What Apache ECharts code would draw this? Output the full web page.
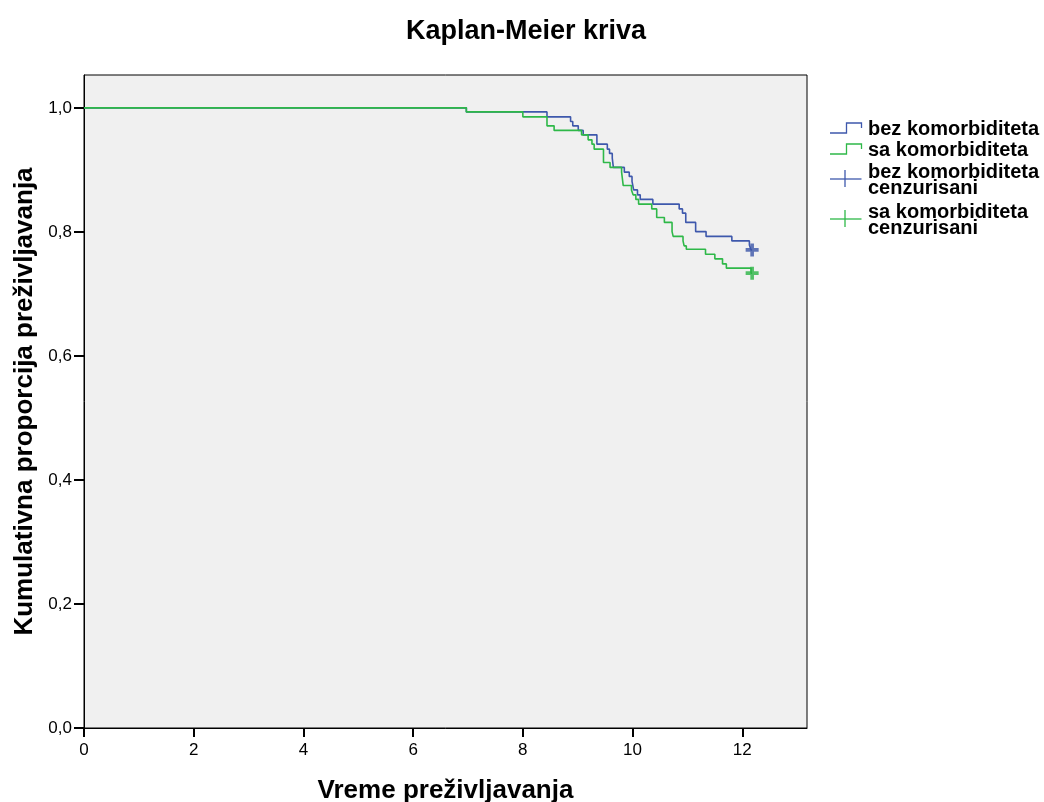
<!DOCTYPE html>
<html>
<head>
<meta charset="utf-8">
<script src="https://cdn.jsdelivr.net/npm/echarts@6/dist/echarts.min.js"></script>
<style>
  html, body { margin: 0; padding: 0; background: #ffffff; }
  #chart { width: 1044px; height: 802px; }
</style>
</head>
<body>
<div id="chart"></div>
<script>
// Kaplan-Meier survival estimates (time, cumulative survival after each event)
const bezTimes = [0, 6.97, 8.44, 8.87, 8.91, 9.01, 9.10, 9.35, 9.54, 9.58, 9.63, 9.65, 9.85, 9.94, 9.99, 10.02, 10.09, 10.14, 10.37, 10.85, 10.91, 10.97, 11.15, 11.34, 11.81, 12.13, 12.16, 12.18];
const bezSurv  = [1.0, 0.9935, 0.9855, 0.9779, 0.9710, 0.9637, 0.9565, 0.9415, 0.9334, 0.9266, 0.9189, 0.9040, 0.8963, 0.8895, 0.8815, 0.8677, 0.8597, 0.8524, 0.8448, 0.8371, 0.8302, 0.8153, 0.8005, 0.7927, 0.7855, 0.7790, 0.7710, 0.7710];

const saTimes = [0, 6.97, 8.00, 8.44, 8.57, 9.07, 9.19, 9.26, 9.30, 9.47, 9.59, 9.80, 9.83, 9.98, 10.01, 10.06, 10.11, 10.35, 10.44, 10.58, 10.72, 10.74, 10.92, 10.94, 10.98, 11.33, 11.50, 11.64, 11.71, 12.16, 12.18];
const saSurv  = [1.0, 0.9935, 0.9855, 0.9710, 0.9637, 0.9565, 0.9484, 0.9415, 0.9334, 0.9118, 0.9040, 0.8963, 0.8747, 0.8677, 0.8597, 0.8524, 0.8448, 0.8371, 0.8231, 0.8153, 0.8005, 0.7927, 0.7855, 0.7774, 0.7721, 0.7640, 0.7565, 0.7484, 0.7415, 0.7334, 0.7334];

// Censored observations
const bezCensored = [[12.18, 0.7710]];
const saCensored  = [[12.18, 0.7334]];

// Axis tick values
const xTicks = [0, 2, 4, 6, 8, 10, 12];
const yTicks = [0, 0.2, 0.4, 0.6, 0.8, 1.0];

const seriesNames = ['bez komorbiditeta', 'sa komorbiditeta', 'bez komorbiditeta\ncenzurisani', 'sa komorbiditeta\ncenzurisani'];

const BLUE = '#3e58ac';
const GREEN = '#2eb848';
const FONT = '"Liberation Sans", Arial, sans-serif';
const PLUS = 'path://M3.6,0 H6.4 V3.6 H10 V6.4 H6.4 V10 H3.6 V6.4 H0 V3.6 H3.6 Z';

const zip = (xs, ys) => xs.map((x, i) => [x, ys[i]]);
const comma = v => v.toFixed(1).replace('.', ',');

// Legend drawn as graphic elements: step icon for curves, thin cross for censor marks
const legendX = 830;
const legendFont = 'bold 20px ' + FONT;
const legendItems = [
  { kind: 'step', color: BLUE, y: 128, lines: [seriesNames[0]] },
  { kind: 'step', color: GREEN, y: 149, lines: [seriesNames[1]] },
  { kind: 'plus', color: BLUE, y: 179, lines: seriesNames[2].split('\n') },
  { kind: 'plus', color: GREEN, y: 219, lines: seriesNames[3].split('\n') }
];
const graphics = [];
legendItems.forEach(it => {
  if (it.kind === 'step') {
    graphics.push({
      type: 'polyline', silent: true,
      shape: { points: [[legendX, it.y + 5], [legendX + 16.5, it.y + 5], [legendX + 16.5, it.y - 5], [legendX + 31.5, it.y - 5], [legendX + 31.5, it.y]] },
      style: { stroke: it.color, lineWidth: 1.3, fill: null }
    });
    graphics.push({
      type: 'text', silent: true, x: legendX + 38, y: it.y + 1,
      style: { text: it.lines[0], font: legendFont, fill: '#000', textVerticalAlign: 'middle' }
    });
  } else {
    graphics.push({
      type: 'polyline', silent: true,
      shape: { points: [[legendX, it.y], [legendX + 31.5, it.y]] },
      style: { stroke: it.color, lineWidth: 1.3 }
    });
    graphics.push({
      type: 'polyline', silent: true,
      shape: { points: [[legendX + 15, it.y - 9], [legendX + 15, it.y + 8]] },
      style: { stroke: it.color, lineWidth: 1.3 }
    });
    graphics.push({
      type: 'text', silent: true, x: legendX + 38, y: it.y - 7,
      style: { text: it.lines[0], font: legendFont, fill: '#000', textVerticalAlign: 'middle' }
    });
    graphics.push({
      type: 'text', silent: true, x: legendX + 38, y: it.y + 9.5,
      style: { text: it.lines[1], font: legendFont, fill: '#000', textVerticalAlign: 'middle' }
    });
  }
});

const chart = echarts.init(document.getElementById('chart'), null, { renderer: 'canvas' });
chart.setOption({
  backgroundColor: '#ffffff',
  animation: false,
  title: {
    text: 'Kaplan-Meier kriva',
    left: 521, top: 13, textAlign: 'center',
    textStyle: { fontFamily: FONT, fontWeight: 'bold', fontSize: 27, color: '#000' }
  },
  grid: {
    left: 84, top: 75, right: 237, bottom: 74,
    outerBoundsMode: 'none',
    show: true, backgroundColor: '#f0f0f0', borderColor: '#000', borderWidth: 1
  },
  xAxis: {
    type: 'value', min: 0, max: 13.18,
    name: 'Vreme preživljavanja', nameLocation: 'middle', nameGap: 50,
    nameTextStyle: { fontFamily: FONT, fontWeight: 'bold', fontSize: 26, color: '#000' },
    axisLine: { show: true, lineStyle: { color: '#000', width: 1 } },
    axisTick: { show: true, inside: false, length: 9, customValues: xTicks, lineStyle: { color: '#000', width: 2 } },
    axisLabel: { customValues: xTicks, margin: 14, fontFamily: FONT, fontSize: 17, color: '#000' },
    splitLine: { show: false }
  },
  yAxis: {
    type: 'value', min: 0, max: 1.053,
    name: 'Kumulativna proporcija preživljavanja', nameLocation: 'middle', nameGap: 42,
    nameTextStyle: { fontFamily: FONT, fontWeight: 'bold', fontSize: 26, color: '#000' },
    axisLine: { show: true, lineStyle: { color: '#000', width: 1 } },
    axisTick: { show: true, inside: false, length: 10, customValues: yTicks, lineStyle: { color: '#000', width: 2 } },
    axisLabel: { customValues: yTicks, margin: 12, fontFamily: FONT, fontSize: 17, color: '#000', formatter: comma },
    splitLine: { show: false }
  },
  series: [
    {
      name: seriesNames[0], type: 'line', step: 'end', showSymbol: false,
      data: zip(bezTimes, bezSurv),
      lineStyle: { color: BLUE, width: 1.6 }, itemStyle: { color: BLUE }, z: 2
    },
    {
      name: seriesNames[1], type: 'line', step: 'end', showSymbol: false,
      data: zip(saTimes, saSurv),
      lineStyle: { color: GREEN, width: 1.6 }, itemStyle: { color: GREEN }, z: 3
    },
    {
      name: seriesNames[2], type: 'scatter', symbol: PLUS, symbolSize: 13,
      data: bezCensored, itemStyle: { color: '#3b55a8' }, z: 4
    },
    {
      name: seriesNames[3], type: 'scatter', symbol: PLUS, symbolSize: 13,
      data: saCensored, itemStyle: { color: '#2bb445' }, z: 4
    }
  ],
  graphic: graphics
});
</script>
</body>
</html>
